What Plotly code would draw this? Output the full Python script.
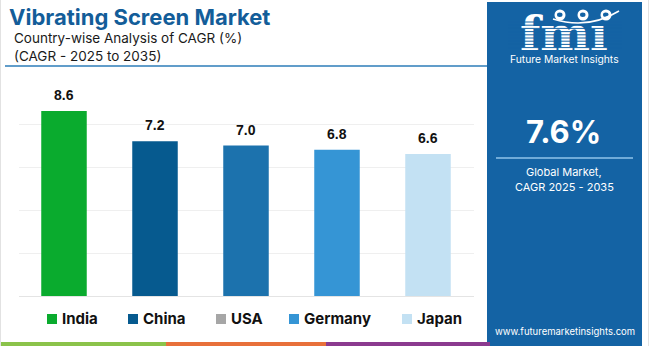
import plotly.graph_objects as go

# Country-wise CAGR, 2025-2035
countries = ["India", "China", "USA", "Germany", "Japan"]
cagr = [8.6, 7.2, 7.0, 6.8, 6.6]
bar_colors = ["#0aab2e", "#065a8f", "#1c72ad", "#3595d5", "#c3e1f3"]
legend_colors = ["#0aab2e", "#065a8f", "#a6a6a6", "#3595d5", "#c3e1f3"]

title = "Vibrating Screen Market"
subtitle_1 = "Country-wise Analysis of CAGR (%)"
subtitle_2 = "(CAGR - 2025 to 2035)"
global_cagr = "7.6%"
global_label = ["Global Market,", "CAGR 2025 - 2035"]
logo_text = "fmı"
brand = "Future Market Insights"
website = "www.futuremarketinsights.com"

W, H = 650, 346
PANEL = "#1463a4"
FONT = "Inter"


def px(x):
    return x / W


def py(y):
    return 1 - y / H


def label(x, y, text, size, color="white", family=FONT, xanchor="center"):
    return dict(x=px(x), y=py(y), xref="paper", yref="paper", text=text,
                xanchor=xanchor, yanchor="middle", showarrow=False,
                font=dict(family=family, size=size, color=color))


fig = go.Figure()
fig.add_trace(go.Bar(
    x=countries, y=cagr, width=0.5,
    marker=dict(color=bar_colors, line=dict(width=0)),
    showlegend=False, hoverinfo="x+y",
))

# logo lettering on a full-page overlay axis so stripes can sit on top of it
fig.add_trace(go.Scatter(
    x=[564], y=[38], xaxis="x2", yaxis="y2", mode="text", text=[f"<b>{logo_text}</b>"],
    textposition="middle center", cliponaxis=False, showlegend=False, hoverinfo="skip",
    textfont=dict(family="DejaVu Serif", size=47, color="white"),
))

annotations = []
shapes = []

# value labels above bars
for c, v in zip(countries, cagr):
    annotations.append(dict(
        x=c, y=v, xref="x", yref="y", text=f"<b>{v:.1f}</b>",
        showarrow=False, xanchor="center", yanchor="bottom", yshift=6,
        font=dict(family="Liberation Sans", size=14, color="#111111"),
    ))

# headings
annotations += [
    label(7, 17, f"<b>{title}</b>", 22, "#135d99", xanchor="left"),
    label(12, 37.5, subtitle_1, 13.5, "#1a1a1a", xanchor="left"),
    label(12, 56, subtitle_2, 13.5, "#1a1a1a", xanchor="left"),
]
shapes.append(dict(type="line", xref="paper", yref="paper",
                   x0=px(5), x1=px(487), y0=py(66), y1=py(66),
                   line=dict(color="#2d7cb8", width=1.5)))

# legend row
legend_x = [47, 128, 216, 289, 402]
for name, col, lx in zip(countries, legend_colors, legend_x):
    shapes.append(dict(type="rect", xref="paper", yref="paper",
                       x0=px(lx), x1=px(lx + 10), y0=py(324), y1=py(314),
                       fillcolor=col, line=dict(width=0)))
    annotations.append(label(lx + 13, 318.5, f"<b>{name}</b>", 15, "#111111", xanchor="left"))

# bottom colour stripe
for x0, x1, col in [(0, 166, "#8bc34a"), (166, 326, "#e8703a"), (326, 490, "#8b3a8f")]:
    shapes.append(dict(type="rect", xref="paper", yref="paper",
                       x0=px(x0), x1=px(x1), y0=py(346), y1=py(342),
                       fillcolor=col, line=dict(width=0)))

# frame edges
for x in (0.5, 648.5):
    shapes.append(dict(type="line", xref="paper", yref="paper",
                       x0=px(x), x1=px(x), y0=0, y1=1,
                       line=dict(color="#e2e2e2", width=1)))

# right-hand info panel
shapes.append(dict(type="rect", xref="paper", yref="paper",
                   x0=px(487), x1=px(642), y0=py(346), y1=py(2),
                   fillcolor=PANEL, line=dict(width=0), layer="below"))

# stripes across the logo letters
y = 22.0
while y < 50:
    shapes.append(dict(type="line", xref="paper", yref="paper",
                       x0=px(508), x1=px(622), y0=py(y), y1=py(y),
                       line=dict(color=PANEL, width=1)))
    y += 3.2
# globe icons above the letters
for cx in (560, 583, 606):
    shapes.append(dict(type="circle", xref="paper", yref="paper",
                       x0=px(cx - 5.5), x1=px(cx + 5.5), y0=py(20.5), y1=py(9.5),
                       fillcolor="white", line=dict(width=0)))
    shapes.append(dict(type="circle", xref="paper", yref="paper",
                       x0=px(cx - 3), x1=px(cx + 2.5), y0=py(17), y1=py(12.5),
                       fillcolor=PANEL, line=dict(width=0)))
shapes.append(dict(type="path", xref="paper", yref="paper",
                   path=f"M {px(553)},{py(19)} Q {px(588)},{py(30)} {px(619)},{py(11)}",
                   line=dict(color="white", width=1.5)))

annotations += [
    label(564, 59, brand, 10.3),
    label(563, 131, f"<b>{global_cagr}</b>", 31),
    label(564, 172, global_label[0], 11),
    label(564, 187, global_label[1], 11),
    label(565, 331, website, 9.5),
]
shapes.append(dict(type="line", xref="paper", yref="paper",
                   x0=px(496), x1=px(633), y0=py(158), y1=py(158),
                   line=dict(color="#8fc3ea", width=1.5)))

fig.update_layout(
    width=W, height=H,
    margin=dict(l=0, r=0, t=0, b=0),
    paper_bgcolor="white", plot_bgcolor="rgba(0,0,0,0)",
    bargap=0.5,
    xaxis=dict(domain=[px(18.5), px(473.5)], showticklabels=False, showgrid=False,
               zeroline=False, showline=False, fixedrange=True),
    yaxis=dict(domain=[py(296), py(81)], range=[0, 10], dtick=2, showticklabels=False,
               showgrid=True, gridcolor="#efefef", gridwidth=1,
               zeroline=True, zerolinecolor="#e4e4e4", zerolinewidth=1,
               showline=False, fixedrange=True),
    xaxis2=dict(domain=[0, 1], range=[0, W], anchor="y2", visible=False, fixedrange=True),
    yaxis2=dict(domain=[0, 1], range=[H, 0], anchor="x2", visible=False, fixedrange=True),
    annotations=annotations,
    shapes=shapes,
    showlegend=False,
)

fig.write_html("out.html")
